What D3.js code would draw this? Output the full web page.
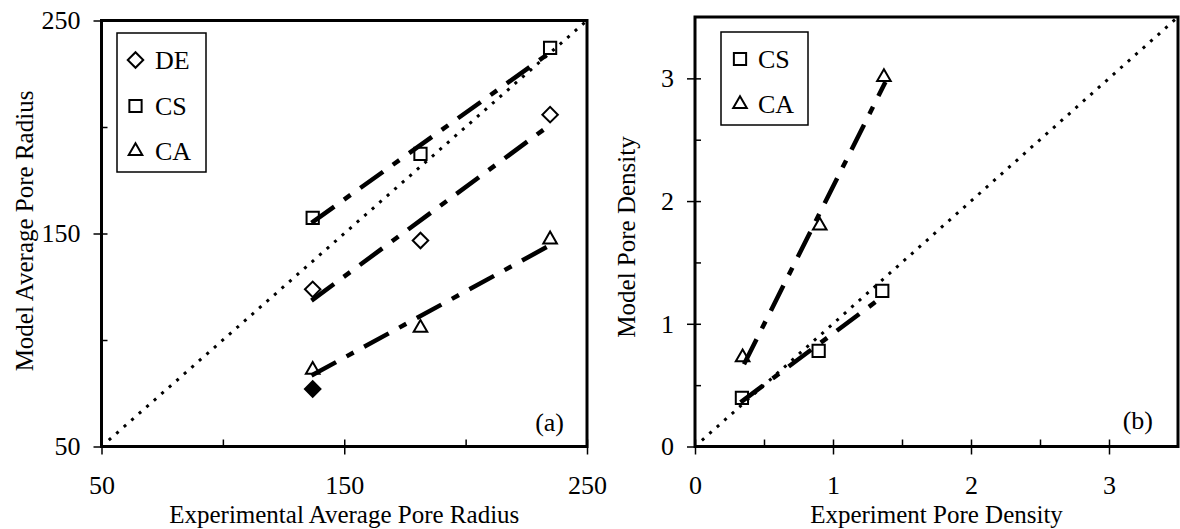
<!DOCTYPE html>
<html>
<head>
<meta charset="utf-8">
<script src="https://cdnjs.cloudflare.com/ajax/libs/d3/7.8.5/d3.min.js"></script>
<style>
  body { margin: 0; background: #fff; }
  text { font-family: "Liberation Serif", "Times New Roman", serif; fill: #000; }
</style>
</head>
<body>
<div id="canvas"></div>
<script>
// ---- panel (a): average pore radius ----
var radiusExp = [137, 181.4, 234.8]
var radiusDE = [123.8, 146.7, 205.8]
var radiusCS = [157.3, 187.4, 237.1]
var radiusCA = [86, 105.7, 147.2]
var radiusExtraX = [137]
var radiusExtraY = [77]
var radiusFitX = [136.5, 234.8]
var radiusFitDE = [118.5, 201]
var radiusFitCS = [155, 235]
var radiusFitCA = [83.3, 144.5]
var radiusDiag = [53, 250]
var radiusMajor = [50, 150, 250]
var radiusMinor = [100, 200]

// ---- panel (b): pore density ----
var densExpCS = [0.34, 0.896, 1.357]
var densCS = [0.397, 0.78, 1.268]
var densExpCA = [0.345, 0.904, 1.369]
var densCA = [0.726, 1.8, 3.01]
var densFitCSX = [0.33, 1.37]
var densFitCS = [0.36, 1.23]
var densFitCAX = [0.355, 1.38]
var densFitCA = [0.67, 2.97]
var densDiag = [0.05, 3.5]
var densMajor = [0, 1, 2, 3]
var densMinor = [0.5, 1.5, 2.5]

var svg = d3.select("#canvas").append("svg")
  .attr("width", 1180).attr("height", 529)
svg.append("rect").attr("width", 1180).attr("height", 529).attr("fill", "#fff")

var fontSize = 26
var titleSize = 25

function shape(kind) {
  if (kind == "diamond") return d3.symbol().type(d3.symbolSquare).size(120)()
  if (kind == "square") return d3.symbol().type(d3.symbolSquare).size(150)()
  return d3.symbol().type(d3.symbolTriangle).size(80)()
}

function drawPanel(p) {
  var g = svg.append("g")
  var x = d3.scaleLinear().domain(p.domain).range([p.left, p.right])
  var y = d3.scaleLinear().domain(p.domain).range([p.bottom, p.top])

  // x axis: outside part with labels, then the inside ticks
  var xa = g.append("g").attr("transform", "translate(0," + p.bottom + ")")
    .call(d3.axisBottom(x).tickValues(p.major).tickSizeInner(8).tickSizeOuter(0).tickPadding(21).tickFormat(d3.format("d")))
  var xi = g.append("g").attr("transform", "translate(0," + p.bottom + ")")
    .call(d3.axisTop(x).tickValues(p.major.concat(p.minor)).tickSizeInner(7).tickSizeOuter(0).tickFormat(""))
  var ya = g.append("g").attr("transform", "translate(" + p.left + ",0)")
    .call(d3.axisLeft(y).tickValues(p.major).tickSizeInner(8).tickSizeOuter(0).tickPadding(13).tickFormat(d3.format("d")))
  var yi = g.append("g").attr("transform", "translate(" + p.left + ",0)")
    .call(d3.axisRight(y).tickValues(p.major.concat(p.minor)).tickSizeInner(6).tickSizeOuter(0).tickFormat(""))
  ;[xa, xi, ya, yi].forEach(function(a) {
    a.select(".domain").remove()
    a.selectAll("line").attr("stroke", "#000").attr("stroke-width", 1.5)
    a.selectAll("text").attr("font-size", fontSize).style("font-family", "Liberation Serif, Times New Roman, serif")
  })

  // frame
  g.append("rect")
    .attr("x", p.left).attr("y", p.top)
    .attr("width", p.right - p.left).attr("height", p.bottom - p.top)
    .attr("fill", "none").attr("stroke", "#000").attr("stroke-width", 3)

  // 1:1 dotted line
  g.append("line")
    .attr("x1", x(p.diag[0])).attr("y1", y(p.diag[0]))
    .attr("x2", x(p.diag[1])).attr("y2", y(p.diag[1]))
    .attr("stroke", "#000").attr("stroke-width", 3)
    .attr("stroke-dasharray", "3,7")

  // fitted lines
  p.fits.forEach(function(f) {
    g.append("line")
      .attr("x1", x(f.x[0])).attr("y1", y(f.y[0]))
      .attr("x2", x(f.x[1])).attr("y2", y(f.y[1]))
      .attr("stroke", "#000").attr("stroke-width", 4.5)
      .attr("stroke-dasharray", "28,12,8,12")
  })

  // markers
  p.series.forEach(function(s) {
    g.append("g").selectAll("path")
      .data(s.x.map(function(v, i) { return [v, s.y[i]] }))
      .enter().append("path")
        .attr("d", shape(s.kind))
        .attr("transform", function(d) {
          return "translate(" + x(d[0]) + "," + y(d[1]) + ")" + (s.kind == "diamond" ? " rotate(45)" : "")
        })
        .attr("fill", s.filled ? "#000" : "none")
        .attr("stroke", "#000").attr("stroke-width", 2)
  })

  // legend
  var lg = g.append("g")
  lg.append("rect")
    .attr("x", p.legend.x).attr("y", p.legend.y)
    .attr("width", p.legend.w).attr("height", p.legend.h)
    .attr("fill", "#fff").attr("stroke", "#000").attr("stroke-width", 1.5)
  p.legend.items.forEach(function(it, i) {
    var cy = p.legend.rows[i]
    lg.append("path").attr("d", shape(it.kind))
      .attr("transform", "translate(" + p.legend.mx + "," + cy + ")" + (it.kind == "diamond" ? " rotate(45)" : ""))
      .attr("fill", "none").attr("stroke", "#000").attr("stroke-width", 2)
    lg.append("text").attr("x", p.legend.tx).attr("y", cy).attr("dy", "0.35em")
      .attr("font-size", fontSize).text(it.label)
  })

  // panel tag
  g.append("text").attr("x", p.tag.x).attr("y", p.tag.y).attr("text-anchor", "end")
    .attr("font-size", fontSize).text(p.tag.text)

  // axis titles
  g.append("text").attr("x", (p.left + p.right) / 2).attr("y", 523)
    .attr("text-anchor", "middle").attr("font-size", titleSize).text(p.xTitle)
  g.append("text")
    .attr("transform", "translate(" + p.yTitleX + "," + p.yTitleY + ") rotate(-90)")
    .attr("text-anchor", "middle").attr("dy", "0.35em")
    .attr("font-size", titleSize).text(p.yTitle)
}

drawPanel({
  left: 101.5, right: 587, top: 20.5, bottom: 446.5,
  domain: [50, 250], major: radiusMajor, minor: radiusMinor,
  diag: radiusDiag,
  fits: [
    {x: radiusFitX, y: radiusFitCS},
    {x: radiusFitX, y: radiusFitDE},
    {x: radiusFitX, y: radiusFitCA}
  ],
  series: [
    {kind: "diamond", x: radiusExp, y: radiusDE},
    {kind: "square", x: radiusExp, y: radiusCS},
    {kind: "triangle", x: radiusExp, y: radiusCA},
    {kind: "diamond", x: radiusExtraX, y: radiusExtraY, filled: true}
  ],
  legend: {x: 117, y: 33, w: 89, h: 139, mx: 135.5, tx: 155, rows: [60, 106, 151],
    items: [{kind: "diamond", label: "DE"}, {kind: "square", label: "CS"}, {kind: "triangle", label: "CA"}]},
  tag: {x: 564, y: 431, text: "(a)"},
  xTitle: "Experimental Average Pore Radius",
  yTitle: "Model Average Pore Radius", yTitleX: 24, yTitleY: 231
})

drawPanel({
  left: 695, right: 1178, top: 17, bottom: 446.5,
  domain: [0, 3.5], major: densMajor, minor: densMinor,
  diag: densDiag,
  fits: [
    {x: densFitCSX, y: densFitCS},
    {x: densFitCAX, y: densFitCA}
  ],
  series: [
    {kind: "square", x: densExpCS, y: densCS},
    {kind: "triangle", x: densExpCA, y: densCA}
  ],
  legend: {x: 721, y: 32, w: 87, h: 93, mx: 740, tx: 758, rows: [59, 104],
    items: [{kind: "square", label: "CS"}, {kind: "triangle", label: "CA"}]},
  tag: {x: 1153, y: 429, text: "(b)"},
  xTitle: "Experiment Pore Density",
  yTitle: "Model Pore Density", yTitleX: 626, yTitleY: 237
})
</script>
</body>
</html>
